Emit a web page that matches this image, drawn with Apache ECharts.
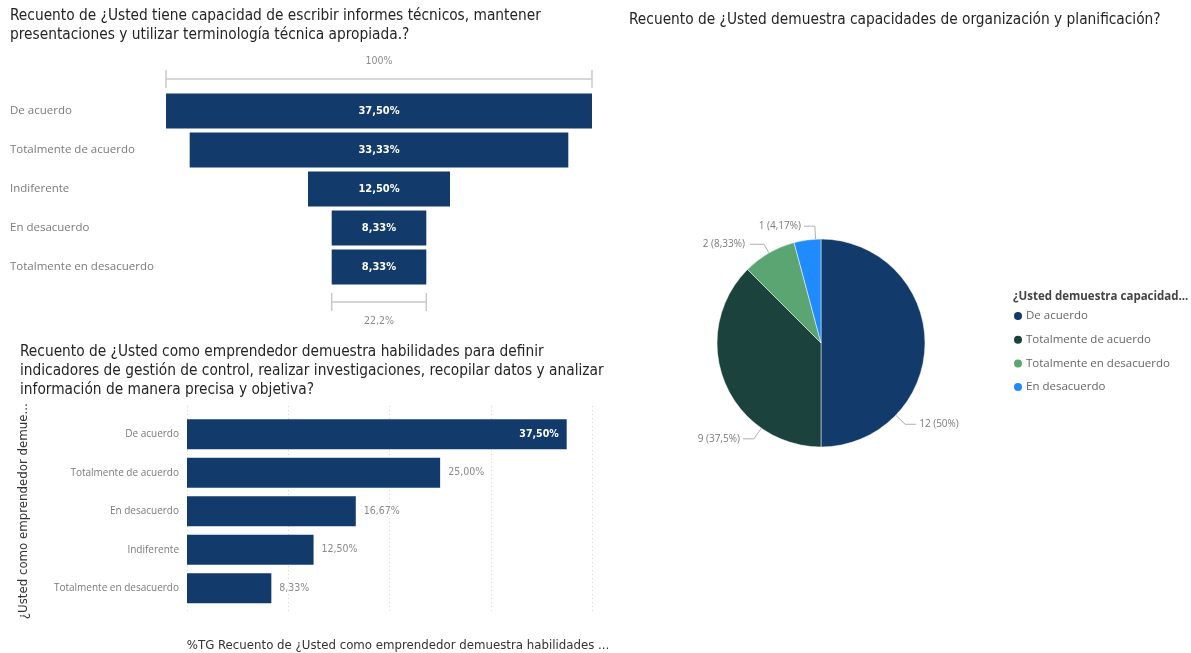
<!DOCTYPE html>
<html>
<head>
<meta charset="utf-8">
<script src="https://cdn.jsdelivr.net/npm/echarts@6/dist/echarts.min.js"></script>
<style>
  html, body { margin: 0; padding: 0; background: #ffffff; }
  #main { width: 1191px; height: 653px; }
</style>
</head>
<body>
<div id="main"></div>
<script>
// Informes técnicos: centred funnel of shares
const funnelCategories = ['De acuerdo', 'Totalmente de acuerdo', 'Indiferente', 'En desacuerdo', 'Totalmente en desacuerdo'];
const funnelValues = [37.50, 33.33, 12.50, 8.33, 8.33];

// Emprendedor: horizontal bars of shares
const barCategories = ['De acuerdo', 'Totalmente de acuerdo', 'En desacuerdo', 'Indiferente', 'Totalmente en desacuerdo'];
const barValues = [37.50, 25.00, 16.67, 12.50, 8.33];
const barAxisTicks = [0, 10, 20, 30, 40];

// Organización y planificación: counts per answer
const pieCategories = ['De acuerdo', 'Totalmente de acuerdo', 'Totalmente en desacuerdo', 'En desacuerdo'];
const pieCounts = [12, 9, 2, 1];

const titleFunnel = 'Recuento de ¿Usted tiene capacidad de escribir informes técnicos, mantener\npresentaciones y utilizar terminología técnica apropiada.?';
const titleBar = 'Recuento de ¿Usted como emprendedor demuestra habilidades para definir\nindicadores de gestión de control, realizar investigaciones, recopilar datos y analizar\ninformación de manera precisa y objetiva?';
const titlePie = 'Recuento de ¿Usted demuestra capacidades de organización y planificación?';
const barYName = '¿Usted como emprendedor demue...';
const barXName = '%TG Recuento de ¿Usted como emprendedor demuestra habilidades ...';
const legendTitle = '¿Usted demuestra capacidad...';

const NAVY = '#123b6b';
const pieColors = ['#123b6b', '#1b423c', '#5ba572', '#1f8bff'];
const TITLE_FONT = '"DejaVu Sans Condensed", "Liberation Sans Narrow", "DejaVu Sans", sans-serif';
const UI_FONT = '"Open Sans", "Noto Sans", sans-serif';

// Pie geometry and the label anchor angles (degrees clockwise from 3 o'clock; null = slice middle)
const PIE_CX = 821, PIE_CY = 343, PIE_R = 104;
const pieLabelAngles = [44, 125, null, 267];

const pct2 = v => v.toFixed(2).replace('.', ',') + '%';
const pctTrim = v => (Math.round(v * 100) / 100).toString().replace('.', ',') + '%';

const funnelMax = funnelValues[0];
const funnelBase = funnelValues.map(v => (funnelMax - v) / 2);

const barMax = barAxisTicks[barAxisTicks.length - 1];
const barData = barValues.map(v => {
  const inside = v / barMax > 0.85;
  return {
    value: v,
    label: inside
      ? { position: 'insideRight', color: '#ffffff', fontWeight: 'bold', distance: 8 }
      : { position: 'right', color: '#8a8a8a', fontWeight: 'normal', distance: 8 }
  };
});

const pieTotal = pieCounts.reduce((a, b) => a + b, 0);
const pieData = pieCategories.map((name, i) => ({
  name, value: pieCounts[i], itemStyle: { color: pieColors[i] }
}));

function pieLabelLayout(p) {
  const a = pieLabelAngles[p.dataIndex];
  if (a == null) return {};
  const rad = a * Math.PI / 180, c = Math.cos(rad), s = Math.sin(rad);
  const edge = [PIE_CX + PIE_R * c, PIE_CY + PIE_R * s];
  const bend = [PIE_CX + (PIE_R + 13) * c, PIE_CY + (PIE_R + 13) * s];
  const dir = c >= 0 ? 1 : -1;
  const end = [bend[0] + dir * 11, bend[1]];
  return {
    x: end[0] + dir * 3, y: end[1],
    align: dir > 0 ? 'left' : 'right', verticalAlign: 'middle',
    labelLinePoints: [edge, bend, end]
  };
}

const chart = echarts.init(document.getElementById('main'), null, { renderer: 'canvas' });

const titleStyle = { color: '#252423', fontSize: 15.3, fontWeight: 'normal', fontFamily: TITLE_FONT, lineHeight: 19 };

chart.setOption({
  animation: false,
  backgroundColor: '#ffffff',
  title: [
    { text: titleFunnel, left: 10, top: 7, padding: 0, textStyle: titleStyle },
    { text: titleBar, left: 20, top: 343, padding: 0, textStyle: titleStyle },
    { text: titlePie, left: 629, top: 11, padding: 0, textStyle: titleStyle },
    { text: legendTitle, left: 1013, top: 291, padding: 0,
      textStyle: { color: '#444444', fontSize: 11.5, fontWeight: 'bold', fontFamily: UI_FONT } }
  ],
  grid: [
    { left: 166, width: 426, top: 91.5, height: 195 },
    { left: 187, width: 405, top: 415, height: 192.5 },
    { left: 187, width: 405, top: 406, height: 214 }
  ],
  xAxis: [
    { gridIndex: 0, type: 'value', min: 0, max: funnelMax, show: false },
    { gridIndex: 1, type: 'value', min: 0, max: barMax, interval: barAxisTicks[1] - barAxisTicks[0], show: false },
    {
      gridIndex: 2, type: 'value', min: 0, max: barMax, interval: barAxisTicks[1] - barAxisTicks[0],
      axisLine: { show: false }, axisTick: { show: false }, axisLabel: { show: false },
      splitLine: { show: true, lineStyle: { color: '#d6d6d6', type: [1, 3], width: 1 } },
      name: barXName, nameLocation: 'middle', nameGap: 27,
      nameTextStyle: { color: '#333333', fontSize: 13.1, fontFamily: TITLE_FONT, padding: [0, 0, 0, 17] }
    }
  ],
  yAxis: [
    {
      gridIndex: 0, type: 'category', data: funnelCategories, inverse: true,
      axisLine: { show: false }, axisTick: { show: false },
      axisLabel: { align: 'left', margin: 156, color: '#7a7a7a', fontSize: 11.5, fontFamily: UI_FONT }
    },
    {
      gridIndex: 1, type: 'category', data: barCategories, inverse: true,
      axisLine: { show: false }, axisTick: { show: false },
      axisLabel: { margin: 8, color: '#7a7a7a', fontSize: 10, fontFamily: UI_FONT },
      name: barYName, nameLocation: 'middle', nameRotate: 90, nameGap: 157,
      nameTextStyle: { color: '#333333', fontSize: 13.1, fontFamily: TITLE_FONT }
    },
    { gridIndex: 2, type: 'value', min: 0, max: 1, show: false }
  ],
  legend: {
    data: pieCategories, orient: 'vertical', left: 1012, top: 310, padding: 0,
    icon: 'circle', itemWidth: 10, itemHeight: 10, itemGap: 11.7,
    textStyle: { color: '#666666', fontSize: 11.5, fontFamily: UI_FONT, padding: [0, 0, 0, -2] }
  },
  series: [
    {
      type: 'bar', xAxisIndex: 0, yAxisIndex: 0, stack: 'funnel', data: funnelBase,
      itemStyle: { color: 'transparent' }, barWidth: 35, silent: true
    },
    {
      type: 'bar', xAxisIndex: 0, yAxisIndex: 0, stack: 'funnel', data: funnelValues,
      itemStyle: { color: NAVY }, barWidth: 35,
      label: { show: true, position: 'inside', color: '#ffffff', fontWeight: 'bold', fontSize: 11,
        fontFamily: TITLE_FONT, formatter: p => pct2(p.value) }
    },
    {
      type: 'bar', xAxisIndex: 1, yAxisIndex: 1, data: barData,
      itemStyle: { color: NAVY }, barWidth: 30,
      label: { show: true, fontSize: 10.5, fontFamily: TITLE_FONT, formatter: p => pct2(p.value) }
    },
    {
      type: 'pie', center: [PIE_CX, PIE_CY], radius: PIE_R, startAngle: 90, clockwise: true,
      data: pieData, legendHoverLink: false,
      itemStyle: { borderColor: '#ffffff', borderWidth: 0.5 },
      label: {
        show: true, position: 'outside', color: '#7a7a7a', fontSize: 10, fontFamily: UI_FONT,
        formatter: p => p.value + ' (' + pctTrim(p.value / pieTotal * 100) + ')'
      },
      labelLine: { show: true, length: 10, length2: 14, lineStyle: { color: '#b0b0b0', width: 1 } },
      labelLayout: pieLabelLayout
    }
  ]
});

// Range brackets above the widest bar and below the narrowest one
function bracket(x0, x1, y, textY, text) {
  const col = '#c9c9c9';
  return [
    { type: 'line', shape: { x1: x0, y1: y, x2: x1, y2: y }, style: { stroke: col, lineWidth: 1.5 } },
    { type: 'line', shape: { x1: x0, y1: y - 9, x2: x0, y2: y + 9 }, style: { stroke: col, lineWidth: 1.5 } },
    { type: 'line', shape: { x1: x1, y1: y - 9, x2: x1, y2: y + 9 }, style: { stroke: col, lineWidth: 1.5 } },
    { type: 'text', x: (x0 + x1) / 2, y: textY,
      style: { text, fill: '#8a8a8a', fontSize: 10.5, fontFamily: TITLE_FONT, align: 'center', verticalAlign: 'middle' } }
  ];
}
const last = funnelValues.length - 1;
const topL = chart.convertToPixel({ gridIndex: 0 }, [funnelBase[0], 0]);
const topR = chart.convertToPixel({ gridIndex: 0 }, [funnelBase[0] + funnelValues[0], 0]);
const botL = chart.convertToPixel({ gridIndex: 0 }, [funnelBase[last], last]);
const botR = chart.convertToPixel({ gridIndex: 0 }, [funnelBase[last] + funnelValues[last], last]);
const ratio = (funnelValues[last] / funnelValues[0] * 100).toFixed(1).replace('.', ',') + '%';
chart.setOption({
  graphic: [
    ...bracket(topL[0], topR[0], topL[1] - 32, topL[1] - 50, '100%'),
    ...bracket(botL[0], botR[0], botL[1] + 35, botL[1] + 54, ratio)
  ]
});
</script>
</body>
</html>
